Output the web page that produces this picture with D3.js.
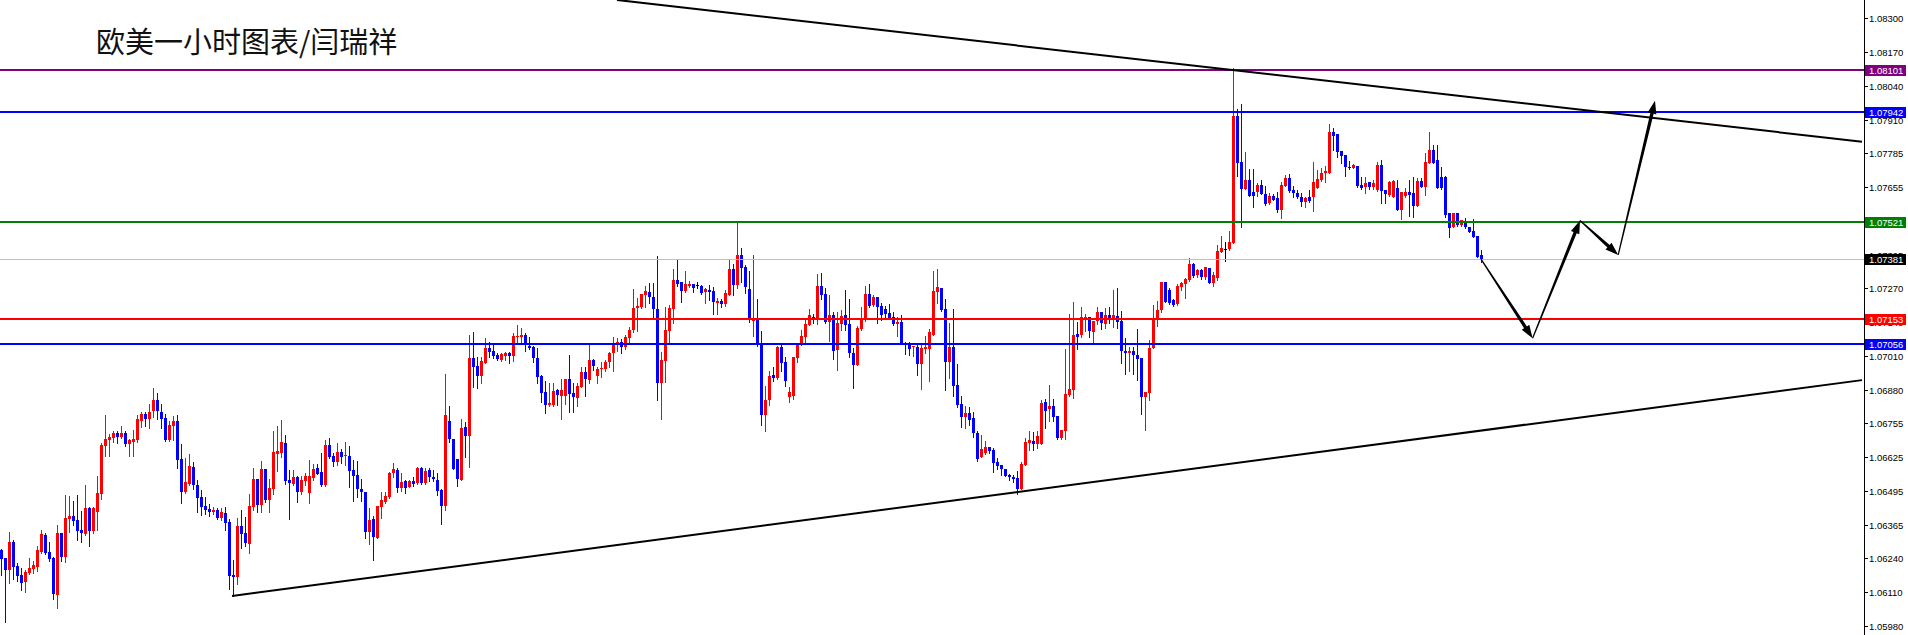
<!DOCTYPE html>
<html><head><meta charset="utf-8">
<script src="https://cdn.jsdelivr.net/npm/d3@7"></script>
<style>html,body{margin:0;padding:0;background:#fff;overflow:hidden}</style>
</head><body><svg id="c" width="1908" height="635"></svg>
<script>
// EURUSD 1-hour candles (open / high / low / close)
const openP = [
1.06271,1.06239,1.06195,1.06301,1.06210,1.06175,1.06150,1.06184,1.06200,1.06207,
1.06264,1.06328,1.06263,1.06240,1.06099,1.06336,1.06242,1.06390,1.06401,1.06385,
1.06347,1.06333,1.06431,1.06343,1.06416,1.06484,1.06668,1.06691,1.06699,1.06717,
1.06702,1.06717,1.06677,1.06683,1.06691,1.06764,1.06790,1.06771,1.06801,1.06843,
1.06797,1.06775,1.06691,1.06745,1.06763,1.06618,1.06492,1.06523,1.06587,1.06519,
1.06473,1.06439,1.06427,1.06416,1.06423,1.06393,1.06412,1.06378,1.06175,1.06168,
1.06362,1.06336,1.06294,1.06435,1.06542,1.06443,1.06580,1.06462,1.06504,1.06637,
1.06641,1.06679,1.06538,1.06523,1.06549,1.06492,1.06534,1.06488,1.06546,1.06584,
1.06567,1.06519,1.06671,1.06631,1.06605,1.06643,1.06630,1.06631,1.06576,1.06557,
1.06505,1.06493,1.06341,1.06388,1.06318,1.06436,1.06455,1.06474,1.06563,1.06576,
1.06506,1.06535,1.06512,1.06535,1.06525,1.06582,1.06525,1.06576,1.06551,1.06538,
1.06500,1.06440,1.06763,1.06694,1.06618,1.06538,1.06741,1.06706,1.07005,1.06973,
1.06936,1.06983,1.07043,1.07030,1.07015,1.06996,1.07011,1.07024,1.07011,1.07085,
1.07085,1.07091,1.07049,1.07044,1.07002,1.06936,1.06875,1.06824,1.06824,1.06881,
1.06858,1.06858,1.06922,1.06871,1.06849,1.06894,1.06951,1.06919,1.06996,1.06936,
1.06960,1.06961,1.06989,1.07021,1.07057,1.07063,1.07047,1.07078,1.07110,1.07193,
1.07197,1.07244,1.07257,1.07235,1.07191,1.06909,1.06993,1.07108,1.07189,1.07301,
1.07293,1.07260,1.07278,1.07286,1.07282,1.07278,1.07256,1.07263,1.07259,1.07214,
1.07222,1.07209,1.07244,1.07343,1.07282,1.07396,1.07352,1.07267,1.07146,1.07151,
1.07057,1.06786,1.06843,1.06938,1.06926,1.07046,1.06988,1.06856,1.06858,1.07005,
1.07053,1.07085,1.07130,1.07161,1.07148,1.07278,1.07247,1.07142,1.07167,1.07034,
1.07132,1.07167,1.07133,1.07021,1.06978,1.07114,1.07148,1.07247,1.07205,1.07235,
1.07202,1.07191,1.07174,1.07161,1.07133,1.07142,1.07062,1.07057,1.07044,1.07046,
1.06980,1.07036,1.07038,1.07091,1.07256,1.07269,1.07189,1.06989,1.07046,1.06900,
1.06828,1.06777,1.06795,1.06773,1.06719,1.06627,1.06642,1.06665,1.06653,1.06608,
1.06595,1.06580,1.06555,1.06551,1.06547,1.06504,1.06595,1.06678,1.06688,1.06675,
1.06675,1.06834,1.06808,1.06820,1.06782,1.06700,1.06726,1.06862,1.06881,1.07095,
1.07091,1.07155,1.07161,1.07104,1.07145,1.07178,1.07133,1.07168,1.07155,1.07165,
1.07145,1.07030,1.07021,1.07030,1.07015,1.07002,1.06856,1.06871,1.07040,1.07151,
1.07187,1.07292,1.07263,1.07225,1.07208,1.07273,1.07286,1.07301,1.07362,1.07320,
1.07339,1.07311,1.07346,1.07289,1.07310,1.07409,1.07420,1.07420,1.07444,1.07927,
1.07750,1.07647,1.07683,1.07638,1.07638,1.07664,1.07630,1.07596,1.07622,1.07616,
1.07568,1.07660,1.07692,1.07645,1.07635,1.07619,1.07598,1.07619,1.07619,1.07651,
1.07683,1.07708,1.07711,1.07867,1.07858,1.07794,1.07778,1.07734,1.07730,1.07736,
1.07664,1.07655,1.07677,1.07658,1.07645,1.07740,1.07645,1.07626,1.07619,1.07651,
1.07568,1.07623,1.07638,1.07632,1.07585,1.07680,1.07655,1.07746,1.07797,1.07759,
1.07696,1.07696,1.07556,1.07505,1.07556,1.07511,1.07524,1.07505,1.07488,1.07469,1.07397];

const highP = [
1.06273,1.06239,1.06340,1.06309,1.06220,1.06201,1.06195,1.06240,1.06229,1.06284,
1.06347,1.06337,1.06303,1.06245,1.06366,1.06336,1.06481,1.06478,1.06459,1.06481,
1.06420,1.06519,1.06436,1.06436,1.06553,1.06680,1.06786,1.06713,1.06725,1.06725,
1.06744,1.06725,1.06694,1.06729,1.06786,1.06797,1.06797,1.06828,1.06889,1.06871,
1.06828,1.06790,1.06764,1.06782,1.06786,1.06675,1.06622,1.06637,1.06607,1.06538,
1.06500,1.06473,1.06446,1.06435,1.06431,1.06431,1.06435,1.06389,1.06233,1.06394,
1.06423,1.06397,1.06484,1.06584,1.06542,1.06610,1.06580,1.06542,1.06725,1.06744,
1.06767,1.06710,1.06576,1.06576,1.06553,1.06553,1.06565,1.06614,1.06599,1.06599,
1.06642,1.06690,1.06697,1.06640,1.06678,1.06655,1.06684,1.06668,1.06614,1.06612,
1.06543,1.06493,1.06430,1.06402,1.06439,1.06493,1.06493,1.06570,1.06601,1.06582,
1.06563,1.06538,1.06538,1.06551,1.06586,1.06586,1.06582,1.06582,1.06576,1.06563,
1.06502,1.06942,1.06820,1.06694,1.06618,1.06769,1.06760,1.07091,1.07104,1.07008,
1.07008,1.07078,1.07066,1.07059,1.07021,1.07024,1.07025,1.07028,1.07098,1.07129,
1.07117,1.07098,1.07085,1.07049,1.07043,1.06939,1.06917,1.06909,1.06909,1.06884,
1.06922,1.06922,1.07015,1.06907,1.06907,1.06970,1.06970,1.07059,1.06998,1.06970,
1.06989,1.06996,1.07025,1.07082,1.07078,1.07075,1.07091,1.07120,1.07267,1.07231,
1.07248,1.07279,1.07291,1.07291,1.07392,1.07027,1.07199,1.07205,1.07343,1.07377,
1.07293,1.07335,1.07297,1.07286,1.07295,1.07282,1.07272,1.07282,1.07275,1.07231,
1.07227,1.07263,1.07377,1.07364,1.07520,1.07424,1.07358,1.07335,1.07396,1.07227,
1.07106,1.06896,1.06954,1.06968,1.07049,1.07053,1.07008,1.06894,1.07008,1.07055,
1.07110,1.07148,1.07190,1.07171,1.07324,1.07329,1.07269,1.07244,1.07180,1.07180,
1.07186,1.07263,1.07228,1.07040,1.07125,1.07199,1.07278,1.07286,1.07244,1.07237,
1.07214,1.07202,1.07209,1.07180,1.07161,1.07166,1.07066,1.07066,1.07049,1.07053,
1.07053,1.07087,1.07116,1.07335,1.07343,1.07269,1.07228,1.07136,1.07189,1.06980,
1.06858,1.06820,1.06818,1.06799,1.06723,1.06710,1.06687,1.06665,1.06659,1.06621,
1.06595,1.06580,1.06561,1.06557,1.06572,1.06608,1.06697,1.06725,1.06722,1.06725,
1.06843,1.06846,1.06901,1.06846,1.06782,1.06729,1.07038,1.07172,1.07219,1.07142,
1.07199,1.07170,1.07161,1.07145,1.07199,1.07178,1.07193,1.07199,1.07263,1.07272,
1.07183,1.07079,1.07047,1.07047,1.07114,1.07002,1.06875,1.07072,1.07206,1.07221,
1.07292,1.07292,1.07272,1.07227,1.07286,1.07295,1.07308,1.07384,1.07367,1.07342,
1.07342,1.07352,1.07348,1.07330,1.07435,1.07469,1.07445,1.07488,1.08110,1.07953,
1.07972,1.07791,1.07725,1.07725,1.07673,1.07683,1.07660,1.07632,1.07628,1.07638,
1.07677,1.07702,1.07706,1.07660,1.07645,1.07635,1.07619,1.07645,1.07753,1.07721,
1.07727,1.07736,1.07897,1.07880,1.07858,1.07794,1.07778,1.07755,1.07743,1.07736,
1.07693,1.07696,1.07677,1.07683,1.07753,1.07759,1.07645,1.07680,1.07683,1.07683,
1.07638,1.07651,1.07683,1.07696,1.07689,1.07689,1.07785,1.07867,1.07816,1.07816,
1.07734,1.07698,1.07558,1.07556,1.07556,1.07532,1.07537,1.07505,1.07533,1.07469,1.07416];

const lowP = [
1.06175,1.05997,1.06146,1.06160,1.06154,1.06118,1.06112,1.06179,1.06184,1.06192,
1.06258,1.06256,1.06229,1.06084,1.06051,1.06230,1.06226,1.06341,1.06366,1.06309,
1.06301,1.06329,1.06286,1.06336,1.06346,1.06465,1.06629,1.06629,1.06682,1.06679,
1.06699,1.06669,1.06629,1.06629,1.06682,1.06741,1.06744,1.06738,1.06778,1.06771,
1.06736,1.06687,1.06688,1.06691,1.06584,1.06450,1.06488,1.06519,1.06504,1.06416,
1.06406,1.06408,1.06401,1.06408,1.06389,1.06385,1.06347,1.06122,1.06095,1.06141,
1.06278,1.06284,1.06261,1.06423,1.06416,1.06416,1.06454,1.06416,1.06484,1.06572,
1.06627,1.06523,1.06389,1.06519,1.06454,1.06486,1.06519,1.06450,1.06538,1.06561,
1.06516,1.06516,1.06620,1.06593,1.06595,1.06601,1.06595,1.06512,1.06459,1.06474,
1.06459,1.06318,1.06294,1.06233,1.06318,1.06394,1.06449,1.06468,1.06551,1.06493,
1.06497,1.06490,1.06512,1.06516,1.06523,1.06523,1.06523,1.06535,1.06535,1.06481,
1.06370,1.06423,1.06682,1.06580,1.06516,1.06538,1.06627,1.06589,1.06894,1.06888,
1.06909,1.06983,1.07008,1.07002,1.06996,1.06992,1.06996,1.06986,1.06993,1.07066,
1.07066,1.07031,1.07038,1.06989,1.06909,1.06837,1.06795,1.06821,1.06822,1.06824,
1.06769,1.06828,1.06799,1.06799,1.06820,1.06894,1.06860,1.06907,1.06958,1.06907,
1.06930,1.06955,1.06970,1.06954,1.07031,1.07024,1.07036,1.07066,1.07104,1.07106,
1.07193,1.07197,1.07212,1.07155,1.06843,1.06770,1.06913,1.07066,1.07138,1.07278,
1.07218,1.07256,1.07275,1.07256,1.07269,1.07247,1.07214,1.07225,1.07171,1.07171,
1.07199,1.07202,1.07244,1.07244,1.07272,1.07295,1.07250,1.07139,1.07087,1.07049,
1.06748,1.06726,1.06824,1.06917,1.06922,1.06955,1.06898,1.06837,1.06847,1.06988,
1.07053,1.07066,1.07129,1.07138,1.07133,1.07227,1.07136,1.07068,1.07001,1.06957,
1.07110,1.07110,1.07008,1.06890,1.06978,1.07110,1.07146,1.07199,1.07202,1.07138,
1.07148,1.07161,1.07151,1.07129,1.07087,1.07057,1.07019,1.07015,1.07011,1.06938,
1.06885,1.07021,1.06915,1.07091,1.07214,1.07184,1.06881,1.06926,1.06858,1.06818,
1.06741,1.06737,1.06748,1.06703,1.06611,1.06625,1.06637,1.06642,1.06570,1.06579,
1.06557,1.06553,1.06536,1.06532,1.06483,1.06504,1.06595,1.06653,1.06653,1.06659,
1.06675,1.06738,1.06764,1.06764,1.06694,1.06693,1.06693,1.06859,1.06852,1.07038,
1.07085,1.07108,1.07085,1.07060,1.07133,1.07114,1.07117,1.07138,1.07123,1.07117,
1.06986,1.06943,1.06955,1.06943,1.06920,1.06790,1.06729,1.06843,1.07040,1.07126,
1.07180,1.07219,1.07208,1.07202,1.07206,1.07263,1.07234,1.07299,1.07314,1.07314,
1.07304,1.07304,1.07289,1.07280,1.07300,1.07409,1.07375,1.07416,1.07444,1.07698,
1.07505,1.07647,1.07623,1.07581,1.07622,1.07630,1.07588,1.07590,1.07607,1.07562,
1.07539,1.07660,1.07638,1.07619,1.07613,1.07584,1.07581,1.07600,1.07566,1.07651,
1.07680,1.07677,1.07711,1.07797,1.07772,1.07747,1.07700,1.07724,1.07727,1.07657,
1.07647,1.07635,1.07647,1.07647,1.07642,1.07596,1.07596,1.07623,1.07619,1.07568,
1.07533,1.07619,1.07547,1.07543,1.07585,1.07655,1.07626,1.07746,1.07749,1.07651,
1.07647,1.07543,1.07467,1.07505,1.07507,1.07509,1.07498,1.07486,1.07464,1.07390,1.07368];

const closeP = [
1.06236,1.06195,1.06301,1.06207,1.06173,1.06146,1.06188,1.06201,1.06214,1.06271,
1.06333,1.06261,1.06236,1.06103,1.06336,1.06242,1.06393,1.06401,1.06381,1.06343,
1.06336,1.06431,1.06343,1.06431,1.06487,1.06671,1.06694,1.06702,1.06716,1.06702,
1.06717,1.06675,1.06691,1.06694,1.06771,1.06790,1.06771,1.06797,1.06843,1.06801,
1.06771,1.06691,1.06748,1.06763,1.06614,1.06492,1.06530,1.06591,1.06519,1.06469,
1.06435,1.06423,1.06416,1.06423,1.06393,1.06416,1.06374,1.06172,1.06168,1.06362,
1.06332,1.06298,1.06439,1.06542,1.06443,1.06580,1.06462,1.06507,1.06645,1.06649,
1.06683,1.06534,1.06525,1.06549,1.06492,1.06538,1.06553,1.06553,1.06580,1.06561,
1.06519,1.06671,1.06624,1.06605,1.06643,1.06624,1.06633,1.06573,1.06554,1.06502,
1.06493,1.06341,1.06385,1.06322,1.06439,1.06462,1.06477,1.06566,1.06579,1.06509,
1.06531,1.06506,1.06535,1.06523,1.06582,1.06525,1.06573,1.06551,1.06540,1.06497,
1.06440,1.06786,1.06694,1.06580,1.06540,1.06738,1.06706,1.07002,1.06970,1.06935,
1.06992,1.07043,1.07028,1.07012,1.06998,1.07017,1.07024,1.07011,1.07087,1.07089,
1.07091,1.07053,1.07040,1.07002,1.06932,1.06871,1.06824,1.06830,1.06877,1.06862,
1.06881,1.06922,1.06866,1.06853,1.06897,1.06951,1.06923,1.06996,1.06974,1.06961,
1.06966,1.06989,1.07024,1.07059,1.07063,1.07047,1.07082,1.07110,1.07193,1.07202,
1.07248,1.07260,1.07235,1.07191,1.06909,1.06996,1.07110,1.07195,1.07301,1.07286,
1.07260,1.07286,1.07287,1.07272,1.07282,1.07253,1.07265,1.07256,1.07218,1.07222,
1.07209,1.07253,1.07343,1.07282,1.07396,1.07348,1.07275,1.07148,1.07155,1.07053,
1.06786,1.06843,1.06935,1.06928,1.07046,1.06985,1.06917,1.06875,1.07008,1.07055,
1.07087,1.07133,1.07166,1.07151,1.07278,1.07244,1.07142,1.07167,1.07031,1.07136,
1.07163,1.07129,1.07021,1.06978,1.07119,1.07151,1.07247,1.07203,1.07235,1.07199,
1.07167,1.07171,1.07158,1.07133,1.07142,1.07057,1.07059,1.07038,1.07049,1.06980,
1.07040,1.07044,1.07101,1.07259,1.07273,1.07186,1.06989,1.07046,1.06898,1.06824,
1.06777,1.06795,1.06767,1.06716,1.06617,1.06656,1.06665,1.06650,1.06604,1.06591,
1.06579,1.06553,1.06548,1.06542,1.06504,1.06599,1.06684,1.06691,1.06675,1.06706,
1.06833,1.06803,1.06820,1.06780,1.06700,1.06729,1.06866,1.06884,1.07091,1.07085,
1.07161,1.07161,1.07108,1.07145,1.07180,1.07136,1.07168,1.07149,1.07168,1.07142,
1.07030,1.07021,1.07030,1.07013,1.07000,1.06856,1.06875,1.07040,1.07151,1.07187,
1.07292,1.07219,1.07215,1.07206,1.07278,1.07289,1.07304,1.07361,1.07316,1.07339,
1.07311,1.07350,1.07289,1.07320,1.07412,1.07425,1.07420,1.07445,1.07927,1.07749,
1.07647,1.07683,1.07623,1.07623,1.07664,1.07630,1.07590,1.07622,1.07607,1.07568,
1.07664,1.07692,1.07641,1.07632,1.07617,1.07598,1.07616,1.07603,1.07674,1.07685,
1.07708,1.07719,1.07865,1.07852,1.07791,1.07774,1.07731,1.07730,1.07740,1.07660,
1.07651,1.07673,1.07658,1.07670,1.07740,1.07642,1.07630,1.07677,1.07679,1.07568,
1.07638,1.07638,1.07626,1.07585,1.07680,1.07655,1.07750,1.07797,1.07749,1.07651,
1.07651,1.07549,1.07501,1.07556,1.07511,1.07530,1.07502,1.07486,1.07467,1.07390,1.07381];

// price axis tick labels
const tickLabels = ["1.08300","1.08170","1.08040","1.07910","1.07785","1.07655","1.07525","1.07395",
  "1.07270","1.07140","1.07010","1.06880","1.06755","1.06625","1.06495","1.06365","1.06240","1.06110","1.05980"];

// horizontal price levels
const levelPrices = [1.08101, 1.07942, 1.07521, 1.07153, 1.07056];
const levelNames  = ["purple","blue","green","red","blue"];
const lastPrice = 1.07381;

// trend lines: [candle index, price] pairs
const upperTrendIdx = [154, 465.25];
const upperTrendPrice = [1.08370, 1.07829];
const lowerTrendIdx = [57.75, 465.25];
const lowerTrendPrice = [1.06095, 1.06919];

// forecast path
const forecastIdx = [370, 382.9, 394.75, 404.3, 413.5];
const forecastPrice = [1.07381, 1.07079, 1.07528, 1.07397, 1.07985];

const title = "欧美一小时图表/闫瑞祥";

// ---------------- drawing ----------------
const W = 1908, H = 635, axisX = 1864;
const colorMap = {purple:"#800080", blue:"#0000ff", green:"#008000", red:"#ff0000"};
const x = d3.scaleLinear().domain([0, 100]).range([1, 401]);
const y = d3.scaleLinear().domain([1.0700, 1.0830]).range([358.9, 18.3]);

const svg = d3.select("#c");
svg.append("rect").attr("width", W).attr("height", H).attr("fill", "#fff");
svg.append("defs").append("clipPath").attr("id", "plot")
  .append("rect").attr("x", 0).attr("y", 0).attr("width", axisX).attr("height", H);
const plot = svg.append("g").attr("clip-path", "url(#plot)");

const idx = d3.range(openP.length);
const col = i => closeP[i] > openP[i] ? "#ff0000" : (closeP[i] < openP[i] ? "#0000ff" : "#000000");
const cx = i => Math.round(x(i));

plot.append("g").selectAll("line").data(idx).join("line")
  .attr("x1", i => cx(i) + 0.5).attr("x2", i => cx(i) + 0.5)
  .attr("y1", i => Math.round(y(highP[i]))).attr("y2", i => Math.round(y(lowP[i])) + 1)
  .attr("stroke", col).attr("stroke-width", 1).attr("shape-rendering", "crispEdges");

plot.append("g").selectAll("rect").data(idx).join("rect")
  .attr("x", i => cx(i) - 1).attr("width", 3)
  .attr("y", i => Math.round(y(Math.max(openP[i], closeP[i]))))
  .attr("height", i => Math.max(1, Math.round(y(Math.min(openP[i], closeP[i]))) - Math.round(y(Math.max(openP[i], closeP[i])))))
  .attr("fill", col).attr("shape-rendering", "crispEdges");

// last price line
plot.append("line").attr("x1", 0).attr("x2", axisX)
  .attr("y1", Math.round(y(lastPrice)) + 0.5).attr("y2", Math.round(y(lastPrice)) + 0.5)
  .attr("stroke", "#c0c0c0").attr("stroke-width", 1);

// level lines
plot.append("g").selectAll("line").data(levelPrices).join("line")
  .attr("x1", 0).attr("x2", axisX)
  .attr("y1", d => Math.round(y(d))).attr("y2", d => Math.round(y(d)))
  .attr("stroke", (d, k) => colorMap[levelNames[k]]).attr("stroke-width", 2)
  .attr("shape-rendering", "crispEdges");

// trend lines
const trend = (ix, pr) => {
  plot.append("line")
    .attr("x1", x(ix[0])).attr("y1", y(pr[0]))
    .attr("x2", x(ix[1])).attr("y2", y(pr[1]))
    .attr("stroke", "#000").attr("stroke-width", 2);
};
trend(upperTrendIdx, upperTrendPrice);
trend(lowerTrendIdx, lowerTrendPrice);

// forecast arrows
const arrows = plot.append("g");
for (let k = 0; k < forecastIdx.length - 1; k++) {
  const ax = x(forecastIdx[k]), ay = y(forecastPrice[k]);
  const bx = x(forecastIdx[k + 1]), by = y(forecastPrice[k + 1]);
  const dx = bx - ax, dy = by - ay, len = Math.hypot(dx, dy);
  const ux = dx / len, uy = dy / len, nx = -uy, ny = ux;
  const hl = 13, hw = 4.5;
  const hx = bx - ux * hl, hy = by - uy * hl;
  const w0 = 0.6, w1 = 1.7;
  const pts = [
    [ax + nx * w0, ay + ny * w0], [hx + nx * w1, hy + ny * w1],
    [hx + nx * hw, hy + ny * hw], [bx, by],
    [hx - nx * hw, hy - ny * hw], [hx - nx * w1, hy - ny * w1],
    [ax - nx * w0, ay - ny * w0]
  ];
  arrows.append("polygon").attr("points", pts.map(p => p.join(",")).join(" "))
    .attr("fill", "#000");
}

// axis
svg.append("line").attr("x1", axisX + 0.5).attr("x2", axisX + 0.5).attr("y1", 0).attr("y2", H)
  .attr("stroke", "#000").attr("stroke-width", 1);
const fontAxis = "'Liberation Sans', Arial, sans-serif";
const tg = svg.append("g");
tickLabels.forEach(t => {
  const ty = Math.round(y(+t)) + 0.5;
  tg.append("line").attr("x1", axisX).attr("x2", axisX + 4).attr("y1", ty).attr("y2", ty)
    .attr("stroke", "#000").attr("stroke-width", 1);
  tg.append("text").attr("x", 1869).attr("y", ty + 3.5).text(t)
    .attr("font-family", fontAxis).attr("font-size", "9.5px").attr("fill", "#000");
});

// price labels (drawn over the tick labels, as in the terminal)
const labelData = levelPrices.map((p, k) => ({p, c: colorMap[levelNames[k]]}));
labelData.push({p: lastPrice, c: "#000000"});
const lg = svg.append("g");
labelData.forEach(d => {
  const ly = Math.round(y(d.p));
  lg.append("rect").attr("x", axisX + 1).attr("y", ly - 5).attr("width", 41).attr("height", 11)
    .attr("fill", d.c).attr("shape-rendering", "crispEdges");
  lg.append("text").attr("x", 1869).attr("y", ly + 4).text(d.p.toFixed(5))
    .attr("font-family", fontAxis).attr("font-size", "9.5px").attr("fill", "#fff");
});

// title
svg.append("text").attr("x", 96).attr("y", 53).text(title)
  .attr("font-family", "'Noto Sans CJK SC', sans-serif").attr("font-size", "29px").attr("fill", "#111");
</script>
</body></html>
